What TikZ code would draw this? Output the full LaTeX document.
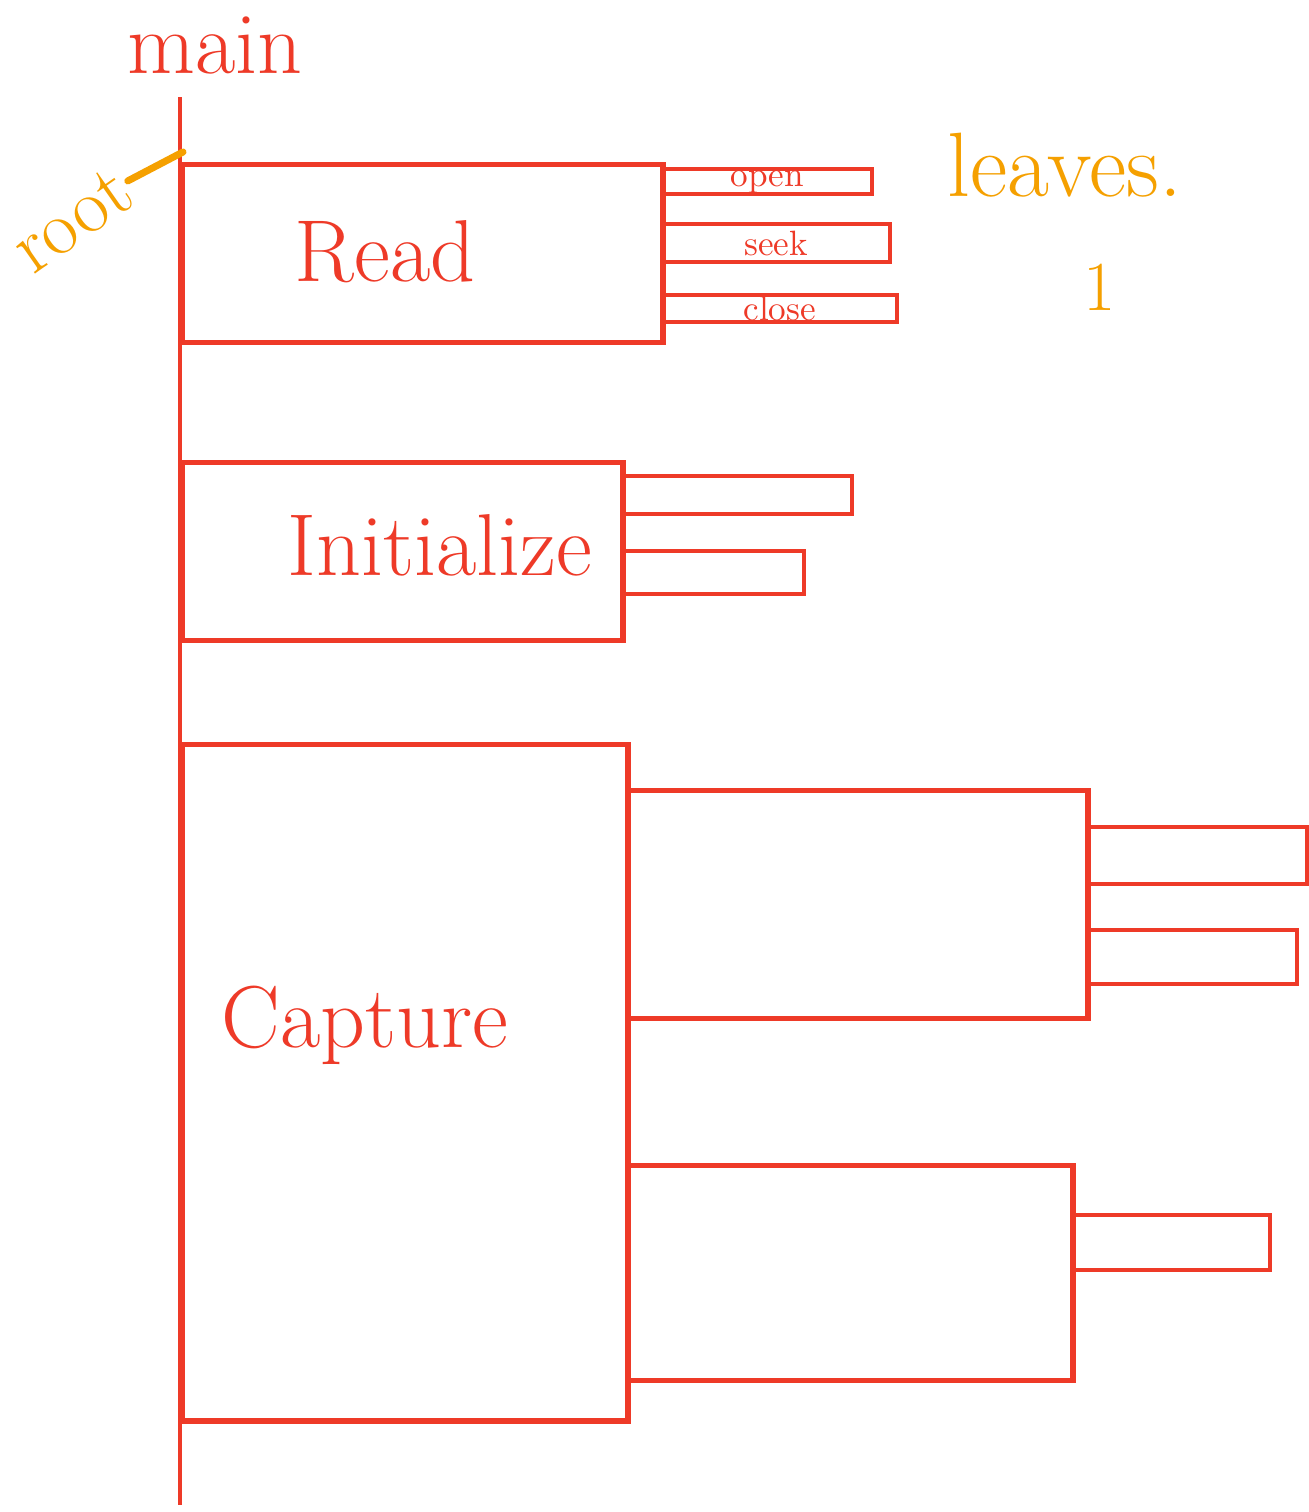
\documentclass[tikz,border=0pt]{standalone}
\definecolor{penred}{HTML}{EE3A28}
\definecolor{penorange}{HTML}{F5A000}

\begin{document}
\begin{tikzpicture}[
  x=0.01cm,y=-0.01cm,
  frame/.style={draw=penred,line width=1.5pt,anchor=north west,inner sep=0pt},
  leafbar/.style={draw=penred,line width=1.2pt,anchor=north west,inner sep=0pt},
  lbl/.style={text=penred,font=\fontsize{25}{30}\selectfont},
  smalllbl/.style={text=penred,font=\fontsize{10}{11}\selectfont,inner sep=0pt},
  note/.style={text=penorange,font=\fontsize{26}{30}\selectfont},
  pointer/.style={draw=penorange,line width=2pt,line cap=round}
]
\useasboundingbox[fill=white] (0,0) rectangle (1309,1512);

% main stack
\coordinate (maintop) at (180,97);
\coordinate (mainbot) at (180,1505);
\draw[draw=penred,line width=1.3pt] (maintop) -- (mainbot);
\node[lbl] (maintxt) at (215,45) {main};

% Read and its leaves
\node[frame,minimum width=4.8cm,minimum height=1.78cm] (read) at (180,162) {};
\node[lbl] (readtxt) at (385,252) {Read};
\node[leafbar,minimum width=2.1cm,minimum height=2.5mm] (open) at (660,167) {};
\node[leafbar,minimum width=2.28cm,minimum height=3.8mm] (seek) at (660,222) {};
\node[leafbar,minimum width=2.35cm,minimum height=2.7mm] (close) at (660,293) {};
\node[smalllbl] (opentxt) at (open.center) {open};
\node[smalllbl] (seektxt) at (seek.center) {seek};
\node[smalllbl] (closetxt) at (close.center) {close};

% Initialize
\node[frame,minimum width=4.4cm,minimum height=1.78cm] (init) at (180,460) {};
\node[lbl] (inittxt) at (440,545) {Initialize};
\node[leafbar,minimum width=2.3cm,minimum height=3.8mm] (initleafa) at (620,474) {};
\node[leafbar,minimum width=1.82cm,minimum height=4.3mm] (initleafb) at (620,549) {};

% Capture
\node[frame,minimum width=4.45cm,minimum height=6.76cm] (capture) at (180,742) {};
\node[lbl] (capturetxt) at (365,1025) {Capture};
\node[frame,minimum width=4.6cm,minimum height=2.28cm] (capa) at (625,788) {};
\node[leafbar,minimum width=2.2cm,minimum height=5.7mm] (capaleafa) at (1085,825) {};
\node[leafbar,minimum width=2.1cm,minimum height=5.4mm] (capaleafb) at (1085,928) {};
\node[frame,minimum width=4.45cm,minimum height=2.15cm] (capb) at (625,1163) {};
\node[leafbar,minimum width=1.98cm,minimum height=5.5mm] (capbleaf) at (1070,1213) {};

% notes
\node[note,rotate=35,font=\fontsize{22}{26}\selectfont,inner sep=1pt] (root) at (72,220) {root};
\coordinate (rootptr) at (183,152);
\draw[pointer] (root.east) -- (rootptr);
\node[note] (leaves) at (1065,165) {leaves.};
\node[note,font=\fontsize{20}{24}\selectfont] (one) at (1100,287) {1};
\end{tikzpicture}
\end{document}
